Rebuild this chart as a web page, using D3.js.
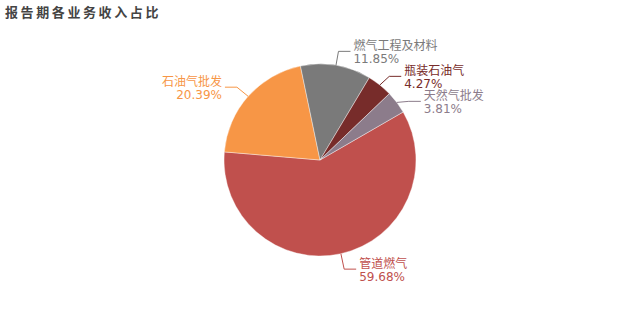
<!DOCTYPE html>
<html><head><meta charset="utf-8">
<script src="https://cdn.jsdelivr.net/npm/d3@7"></script>
<style>body{margin:0;background:#fff}svg{display:block}</style>
</head><body>
<svg id="chart" width="640" height="320"></svg>
<script>
const categories = ["管道燃气", "石油气批发", "燃气工程及材料", "瓶装石油气", "天然气批发"];
const values = [59.68, 20.39, 11.85, 4.27, 3.81];
const colors = ["#C0504D", "#F79646", "#7A7A7A", "#772C2A", "#8C7C8B"];
const title = "报告期各业务收入占比";

const svg = d3.select("#chart");
const W = 640, H = 320;
const cx = 320, cy = 160, R = 96;
const len1 = 15, len2 = 12, gap = 3;

svg.append("text").attr("x", 5).attr("y", 17)
  .attr("font-family", "'Noto Sans CJK SC', sans-serif")
  .attr("font-size", 13).attr("font-weight", "bold")
  .attr("letter-spacing", 2.6).attr("fill", "#444").text(title);

const data = categories.map((c, i) => ({name: c, value: values[i], color: colors[i]}));
const pie = d3.pie().value(d => d.value).sort(null)
  .startAngle(Math.PI / 3).endAngle(Math.PI / 3 + 2 * Math.PI);
const arcs = pie(data);
const arc = d3.arc().innerRadius(0).outerRadius(R);

const g = svg.append("g").attr("transform", `translate(${cx},${cy})`);
g.selectAll("path").data(arcs).join("path")
  .attr("d", arc).attr("fill", d => d.data.color)
  .attr("stroke", "#fff").attr("stroke-width", 0.4);

// label layout
const labels = arcs.map(a => {
  const m = (a.startAngle + a.endAngle) / 2;
  const s = Math.sin(m), c = -Math.cos(m);
  return {
    a, right: s >= 0,
    ex: R * s, ey: R * c,
    kx: (R + len1) * s, ky: (R + len1) * c,
    y: (R + len1) * c + 0.8
  };
});
["right", "left"].forEach(side => {
  const L = labels.filter(l => (side === "right") === l.right).sort((p, q) => p.y - q.y);
  for (let i = 1; i < L.length; i++) {
    if (L[i].y - L[i - 1].y < 25) L[i].y = L[i - 1].y + 25;
  }
});

labels.forEach(l => {
  const dir = l.right ? 1 : -1;
  const x2 = l.kx + dir * len2;
  g.append("polyline")
    .attr("points", `${l.ex},${l.ey} ${l.kx},${l.y} ${x2},${l.y}`)
    .attr("fill", "none").attr("stroke", l.a.data.color).attr("stroke-width", 1);
  const t = g.append("text")
    .attr("x", x2 + dir * gap)
    .attr("text-anchor", l.right ? "start" : "end")
    .attr("font-family", "'DejaVu Sans', 'Noto Sans CJK SC', sans-serif")
    .attr("font-size", 12).attr("fill", l.a.data.color);
  t.append("tspan").attr("x", x2 + dir * gap).attr("y", l.y - 1.5).text(l.a.data.name);
  t.append("tspan").attr("x", x2 + dir * gap).attr("y", l.y + 11.5).text(l.a.data.value.toFixed(2) + "%");
});
</script>
</body></html>
